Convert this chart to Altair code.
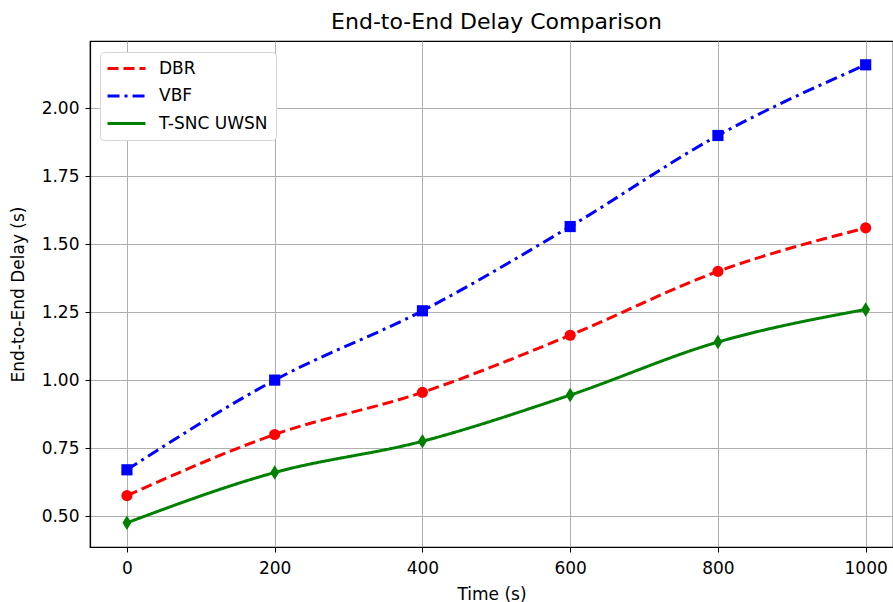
import altair as alt
import pandas as pd

time = [0, 200, 400, 600, 800, 1000]
dbr = [0.575, 0.80, 0.955, 1.165, 1.40, 1.56]
vbf = [0.67, 1.00, 1.255, 1.565, 1.90, 2.16]
tsnc = [0.475, 0.66, 0.775, 0.945, 1.14, 1.26]

series_names = ["DBR", "VBF", "T-SNC UWSN"]
colors = ["#ff0000", "#0000ff", "#008000"]
dashes = [[11, 5], [12, 5, 3, 5], [1, 0]]
shapes = ["circle", "square", "M0,-1.3L0.8,0L0,1.3L-0.8,0Z"]

rows = []
for name, vals in zip(series_names, [dbr, vbf, tsnc]):
    for t, v in zip(time, vals):
        rows.append({"Time": t, "Delay": v, "Series": name})
df = pd.DataFrame(rows)

FONT = "DejaVu Sans"

x = alt.X("Time:Q", title="Time (s)",
          scale=alt.Scale(domain=[-50, 1037], nice=False, zero=False),
          axis=alt.Axis(values=[0, 200, 400, 600, 800, 1000], format="d"))
y = alt.Y("Delay:Q", title="End-to-End Delay (s)",
          scale=alt.Scale(domain=[0.386, 2.2476], nice=False, zero=False),
          axis=alt.Axis(values=[0.5, 0.75, 1.0, 1.25, 1.5, 1.75, 2.0], format=".2f"))

color = alt.Color("Series:N", scale=alt.Scale(domain=series_names, range=colors),
                  legend=alt.Legend(title=None, orient="none", legendX=10, legendY=11,
                                    symbolType="M-4,0L4,0", symbolSize=90,
                                    symbolOffset=10, symbolStrokeWidth=3,
                                    labelFontSize=17, labelFont=FONT,
                                    padding=8, rowPadding=9.5,
                                    fillColor="white", strokeColor="#d6d6d6",
                                    cornerRadius=4, labelOffset=24))
dash = alt.StrokeDash("Series:N", scale=alt.Scale(domain=series_names, range=dashes),
                      legend=alt.Legend(title=None))

lines = alt.Chart(df).mark_line(interpolate="monotone", strokeWidth=3).encode(
    x=x, y=y, color=color, strokeDash=dash, detail="Series:N")

points = alt.Chart(df).mark_point(filled=True, size=125, opacity=1).encode(
    x=x, y=y,
    color=alt.Color("Series:N", scale=alt.Scale(domain=series_names, range=colors), legend=None),
    shape=alt.Shape("Series:N", scale=alt.Scale(domain=series_names, range=shapes), legend=None))

chart = (lines + points).resolve_scale(
    color="independent", shape="independent", strokeDash="independent"
).resolve_legend(color="independent", shape="independent", strokeDash="independent").properties(
    width=803, height=506,
    title=alt.Title("End-to-End Delay Comparison", fontSize=22, font=FONT,
                    fontWeight="normal", color="black", offset=7, dx=5),
    autosize=alt.AutoSizeParams(type="none"),
    padding={"left": 90, "top": 41, "right": 0, "bottom": 55},
).configure_view(stroke="black", strokeWidth=1.2).configure_axis(
    labelFont=FONT, titleFont=FONT, labelFontSize=17, titleFontSize=17,
    labelColor="black", titleColor="black", titleFontWeight="normal",
    domainColor="black", tickColor="black", tickSize=5, domainWidth=1.2,
    gridColor="#b0b0b0", gridWidth=1, labelPadding=6,
).configure_axisY(titlePadding=14).configure_axisX(titlePadding=10, labelPadding=8)

chart.save("out.html", embed_options={"renderer": "svg", "actions": False})
